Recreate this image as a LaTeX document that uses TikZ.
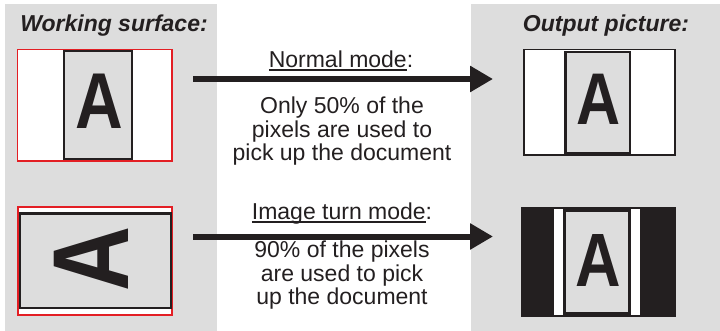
\documentclass[tikz,border=0pt]{standalone}
\usepackage{fontspec}
\setmainfont{Liberation Sans}
\usetikzlibrary{arrows.meta,positioning}

\definecolor{panelgray}{RGB}{221,221,221}
\definecolor{pagegray}{RGB}{221,221,221}
\definecolor{inkblack}{RGB}{35,31,32}
\definecolor{framered}{RGB}{227,30,36}

\newcommand{\modeline}[1]{\setbox0\hbox{#1}\rlap{\rule[-3.5pt]{\wd0}{2pt}}\box0}
\newcommand{\docA}[1]{\fontsize{#1}{#1}\selectfont\bfseries\scalebox{1}[1.2]{A}}

\tikzstyle{panel} = [fill=panelgray]
\tikzstyle{title} = [font=\fontsize{23}{23}\selectfont\bfseries\itshape, text=inkblack, anchor=base, inner sep=0pt]
\tikzstyle{surface} = [rectangle, draw=framered, line width=1.7pt, fill=white, inner sep=0pt]
\tikzstyle{outframe} = [rectangle, draw=inkblack, line width=1.2pt, fill=white, inner sep=0pt]
\tikzstyle{blackframe} = [rectangle, fill=inkblack, inner sep=0pt]
\tikzstyle{page} = [rectangle, draw=inkblack, line width=2.4pt, fill=pagegray, inner sep=0pt]
\tikzstyle{letter} = [inner sep=0pt, text=inkblack]
\tikzstyle{modehead} = [font=\fontsize{23}{23}\selectfont, text=inkblack, anchor=base, inner sep=0pt]
\tikzstyle{descline} = [font=\fontsize{23}{23}\selectfont, text=inkblack, inner sep=0pt, text height=17.25pt, text depth=6pt]
\tikzstyle{arrow} = [line width=6pt, inkblack, -{Triangle[length=23pt,width=25pt]}]

\begin{document}
\begin{tikzpicture}[x=1pt, y=1pt, node distance=23.25pt]
\useasboundingbox (0,0) rectangle (720,-331);
\fill [panel] (5,-4) rectangle (217,-331);
\fill [panel] (471,-4) rectangle (720,-331);

% titles
\node (wstitle) [title] at (114,-31.5) {Working surface:};
\node (optitle) [title] at (606,-31.5) {Output picture:};

% working surface, normal mode
\node (ws1) [surface, minimum width=154.3pt, minimum height=111.3pt] at (94.65,-105.15) {};
\node (page1) [page, minimum width=67.8pt, minimum height=107.8pt] at (98.1,-105.1) {};
\node (letter1) [letter] at (99.5,-101.5) {\docA{66}};

% working surface, image turn mode
\node (ws2) [surface, minimum width=154.1pt, minimum height=108pt] at (94.8,-260.8) {};
\node (page2) [page, minimum width=151pt, minimum height=94.5pt] at (95.5,-260.75) {};
\node (letter2) [letter, rotate=90] at (91,-259) {\docA{90}};

% output pictures
\node (op1) [outframe, minimum width=151pt, minimum height=105.7pt] at (599.5,-102.2) {};
\node (page3) [page, minimum width=64.4pt, minimum height=101pt] at (597.5,-102.25) {};
\node (letter3) [letter] at (598.5,-99.5) {\docA{61}};

\node (op2) [blackframe, minimum width=155pt, minimum height=110pt] at (598.5,-262) {};
\fill [white] (554,-209) rectangle (563.3,-315);
\fill [white] (630.7,-209) rectangle (640,-315);
\node (page4) [page, minimum width=65pt, minimum height=102pt] at (597,-262) {};
\node (letter4) [letter] at (598.5,-260) {\docA{63}};

% arrows
\coordinate (normalfrom) at (193,-79);
\coordinate (normalto) at (493,-79);
\coordinate (turnfrom) at (193,-236.5);
\coordinate (turnto) at (493,-236.5);
\draw [arrow] (normalfrom) -- (normalto);
\draw [arrow] (turnfrom) -- (turnto);

% mode texts
\node (normalhead) [modehead] at (341,-68) {\modeline{Normal mode}:};
\node (normal1) [descline, anchor=base] at (342,-114) {Only 50\% of the};
\node (normal2) [descline, below of=normal1] {pixels are used to};
\node (normal3) [descline, below of=normal2] {pick up the document};

\node (turnhead) [modehead] at (342,-219.3) {\modeline{Image turn mode}:};
\node (turn1) [descline, anchor=base] at (342,-258) {90\% of the pixels};
\node (turn2) [descline, below of=turn1] {are used to pick};
\node (turn3) [descline, below of=turn2] {up the document};
\end{tikzpicture}
\end{document}
